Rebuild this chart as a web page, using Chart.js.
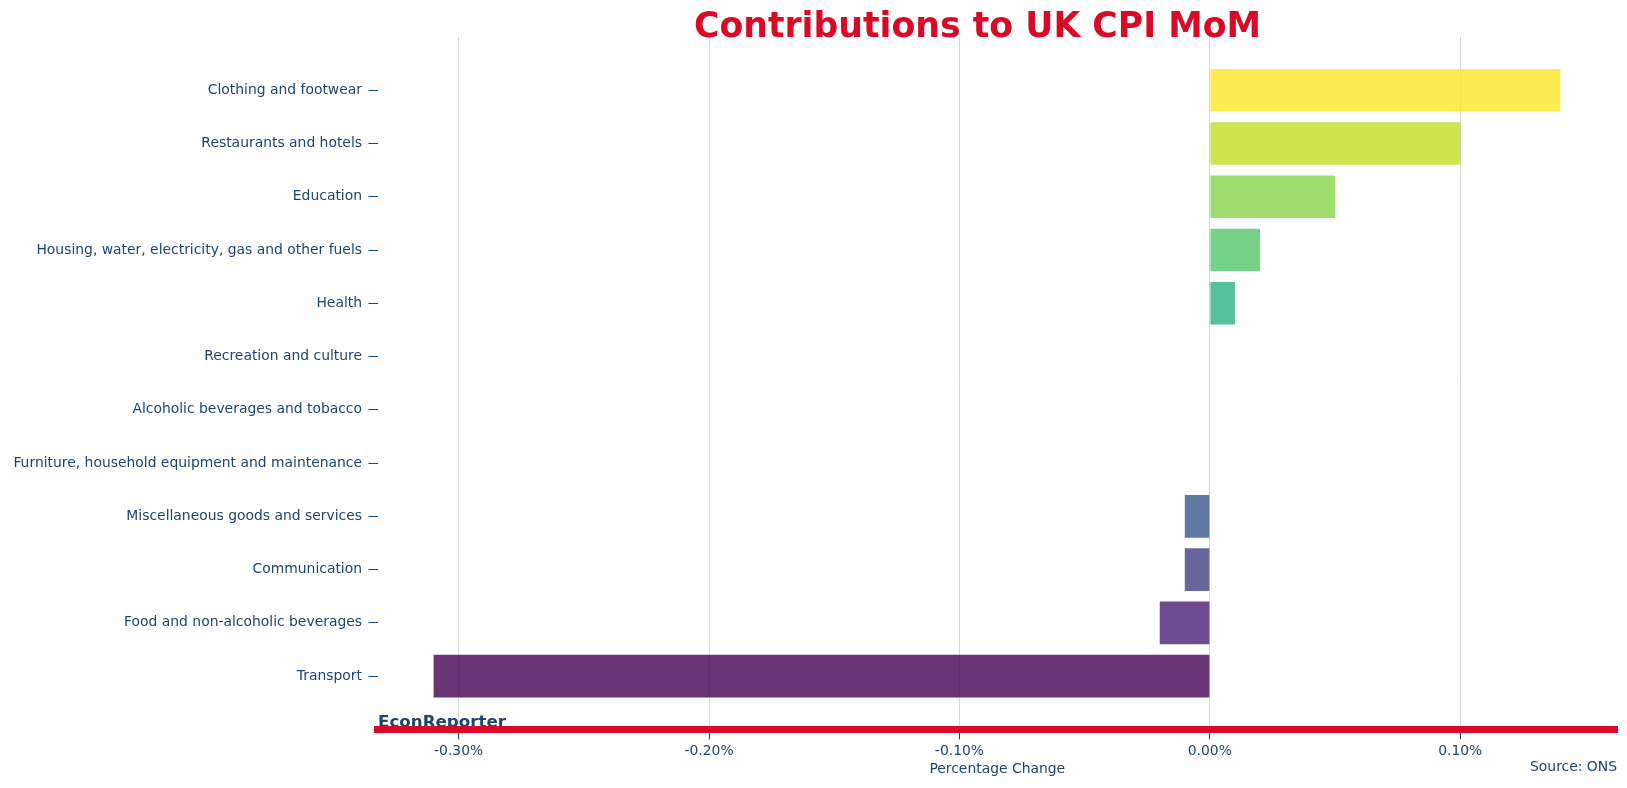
<!DOCTYPE html>
<html>
<head>
<meta charset="utf-8">
<title>Contributions to UK CPI MoM</title>
<script src="https://cdn.jsdelivr.net/npm/chart.js@4.4.1/dist/chart.umd.min.js"></script>
<style>
  html, body { margin: 0; padding: 0; background: #fff; }
  #wrap { width: 1627px; height: 788px; }
</style>
</head>
<body>
<div id="wrap"><canvas id="cpiChart" width="1627" height="788"></canvas></div>
<script>
// ── Data (top to bottom) ──
const CATEGORIES = [
  'Clothing and footwear',
  'Restaurants and hotels',
  'Education',
  'Housing, water, electricity, gas and other fuels',
  'Health',
  'Recreation and culture',
  'Alcoholic beverages and tobacco',
  'Furniture, household equipment and maintenance',
  'Miscellaneous goods and services',
  'Communication',
  'Food and non-alcoholic beverages',
  'Transport',
];
const VALUES = [0.14, 0.10, 0.05, 0.02, 0.01, 0, 0, 0, -0.01, -0.01, -0.02, -0.31];
const X_TICKS = [-0.3, -0.2, -0.1, 0, 0.1];

// viridis, one colour per bar, 0.8 alpha
const BAR_COLORS = [
  '#fde725', '#c2df23', '#86d549', '#52c569', '#2ab07f', '#1e9b8a',
  '#25858e', '#2d708e', '#38588c', '#433e85', '#482173', '#440154',
].map(h => {
  const n = parseInt(h.slice(1), 16);
  return `rgba(${n >> 16},${(n >> 8) & 255},${n & 255},0.8)`;
});

const TEXT_BLUE = '#1c4570';
const RED = '#d90a26';
const FONT = "'DejaVu Sans', sans-serif";

// ── Title / branding / source ──
const textPlugin = {
  id: 'cpiText',
  beforeDraw(chart) {
    const ctx = chart.ctx;
    ctx.save();
    ctx.fillStyle = '#fff';
    ctx.fillRect(0, 0, chart.width, chart.height);
    // sits under the red axis line
    ctx.fillStyle = TEXT_BLUE;
    ctx.font = `bold 16.7px ${FONT}`;
    ctx.textAlign = 'left';
    ctx.textBaseline = 'alphabetic';
    ctx.fillText('EconReporter', 378, 727);
    ctx.restore();
  },
  afterDraw(chart) {
    const ctx = chart.ctx;
    ctx.save();
    ctx.fillStyle = RED;
    ctx.font = `bold 34.7px ${FONT}`;
    ctx.textAlign = 'center';
    ctx.textBaseline = 'alphabetic';
    ctx.fillText('Contributions to UK CPI MoM', 977.5, 37);

    ctx.fillStyle = TEXT_BLUE;
    ctx.font = `13.9px ${FONT}`;
    ctx.textAlign = 'right';
    ctx.textBaseline = 'middle';
    ctx.fillText('Source: ONS', 1617, 767);
    ctx.restore();
  }
};

function initCpiChart() {
  const ctx = document.getElementById('cpiChart').getContext('2d');

  new Chart(ctx, {
    type: 'bar',
    data: {
      datasets: [{
        data: CATEGORIES.map((c, i) => ({ x: VALUES[i], y: i })),
        backgroundColor: BAR_COLORS,
        borderWidth: 0,
        barPercentage: 0.8,
        categoryPercentage: 1.0,
      }]
    },
    options: {
      indexAxis: 'y',
      responsive: false,
      animation: false,
      devicePixelRatio: 1,
      layout: { padding: { top: 37, right: 10, left: 0, bottom: 0 } },
      plugins: {
        legend: { display: false },
        tooltip: { enabled: false },
      },
      scales: {
        x: {
          type: 'linear',
          min: -0.3324,
          max: 0.1626,
          afterBuildTicks: s => { s.ticks = X_TICKS.map(v => ({ value: v })); },
          afterFit: s => { s.height = 58.6; },
          grid: {
            color: '#d6d6d6',
            lineWidth: 1,
            drawTicks: true,
            tickLength: 10,
            tickColor: TEXT_BLUE,
          },
          border: { display: true, color: RED, width: 7 },
          ticks: {
            color: TEXT_BLUE,
            font: { family: FONT, size: 13.9 },
            padding: 4,
            callback: v => v.toFixed(2) + '%',
          },
          title: {
            display: true,
            text: 'Percentage Change',
            color: TEXT_BLUE,
            font: { family: FONT, size: 13.9 },
            padding: { top: 0, bottom: 10 },
          },
        },
        y: {
          type: 'linear',
          reverse: true,
          offset: false,
          min: -1,
          max: 12,
          afterBuildTicks: s => {
            s.ticks = CATEGORIES.map((c, i) => ({ value: i }));
          },
          afterFit: s => { s.width = 377.5; },
          grid: {
            offset: false,
            drawOnChartArea: false,
            drawTicks: true,
            tickLength: 9,
            tickColor: TEXT_BLUE,
          },
          border: { display: false },
          ticks: {
            color: TEXT_BLUE,
            font: { family: FONT, size: 13.9 },
            padding: 6.5,
            autoSkip: false,
            callback: v => CATEGORIES[v] ?? '',
          },
        },
      },
    },
    plugins: [textPlugin],
  });
}

document.addEventListener('DOMContentLoaded', initCpiChart);
</script>
</body>
</html>
